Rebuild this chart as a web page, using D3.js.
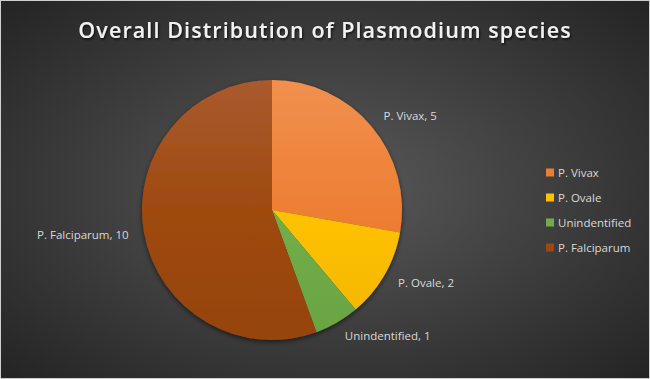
<!DOCTYPE html>
<html>
<head>
<meta charset="utf-8">
<script src="https://cdn.jsdelivr.net/npm/d3@7"></script>
<style>
  body { margin: 0; background: #fff; }
  svg { display: block; }
</style>
</head>
<body>
<svg id="chart" width="650" height="379"></svg>
<script>
const species = ["P. Vivax", "P. Ovale", "Unindentified", "P. Falciparum"];
const counts = [5, 2, 1, 10];
const colours = ["#ED7D31", "#FFC000", "#70AD47", "#9E480E"];
const lightColours = ["#F1904F", "#FFCC40", "#86BC63", "#A95A2E"];

const largeur = 650,
    hauteur = 379;

const svgSpace = d3.select("#chart");
const defs = svgSpace.append("defs");

// background : dark radial gradient
const bg = defs.append("radialGradient")
    .attr("id", "bgGrad")
    .attr("cx", "50%").attr("cy", "50%").attr("r", "70%");
bg.append("stop").attr("offset", "0%").attr("stop-color", "#5a5a5a");
bg.append("stop").attr("offset", "100%").attr("stop-color", "#242424");

svgSpace.append("rect")
    .attr("width", largeur).attr("height", hauteur)
    .attr("fill", "url(#bgGrad)");
svgSpace.append("rect")
    .attr("x", 0.5).attr("y", 0.5)
    .attr("width", largeur - 1).attr("height", hauteur - 1)
    .attr("fill", "none").attr("stroke", "#cfcfcf");

// slice gradients, lighter at the top
colours.forEach((c, i) => {
    const g = defs.append("linearGradient")
        .attr("id", "slice" + i)
        .attr("gradientUnits", "userSpaceOnUse")
        .attr("x1", 0).attr("y1", -130).attr("x2", 0).attr("y2", 130);
    g.append("stop").attr("offset", "0%").attr("stop-color", lightColours[i]);
    g.append("stop").attr("offset", "55%").attr("stop-color", c);
    g.append("stop").attr("offset", "100%").attr("stop-color", d3.color(c).darker(0.15));
});

const shadow = defs.append("filter").attr("id", "shadow")
    .attr("x", "-20%").attr("y", "-20%").attr("width", "140%").attr("height", "140%");
shadow.append("feDropShadow")
    .attr("dx", 0).attr("dy", 2).attr("stdDeviation", 2.5)
    .attr("flood-color", "#000").attr("flood-opacity", 0.55);

const titleShadow = defs.append("filter").attr("id", "tshadow");
titleShadow.append("feDropShadow")
    .attr("dx", 1).attr("dy", 1.5).attr("stdDeviation", 1.2)
    .attr("flood-color", "#000").attr("flood-opacity", 0.7);

// title
svgSpace.append("text")
    .text("Overall Distribution of Plasmodium species")
    .attr("x", largeur / 2)
    .attr("y", 38)
    .attr("fill", "#f2f2f2")
    .attr("filter", "url(#tshadow)")
    .style("font-family", "'Open Sans', sans-serif")
    .style("font-weight", "600")
    .style("font-size", "21.5px")
    .style("letter-spacing", "1.1px")
    .style("text-anchor", "middle");

// pie
const rayonBase = 130,
    cx = 272,
    cy = 210;

const pie = d3.pie().sort(null).value((d) => d.count);
const arcs = pie(species.map((s, i) => ({ name: s, count: counts[i], i: i })));
const arc = d3.arc().innerRadius(0).outerRadius(rayonBase);
const labelArc = d3.arc().innerRadius(rayonBase * 1.12).outerRadius(rayonBase * 1.12);

const pieG = svgSpace.append("g")
    .attr("transform", "translate(" + cx + "," + cy + ")");

pieG.append("g")
    .attr("filter", "url(#shadow)")
    .selectAll("path")
    .data(arcs)
    .enter()
    .append("path")
    .attr("d", arc)
    .attr("fill", (d) => "url(#slice" + d.data.i + ")");

pieG.selectAll("text")
    .data(arcs)
    .enter()
    .append("text")
    .text((d) => d.data.name + ", " + d.data.count)
    .attr("x", (d) => labelArc.centroid(d)[0])
    .attr("y", (d) => labelArc.centroid(d)[1])
    .attr("dy", "0.35em")
    .attr("fill", "#d9d9d9")
    .style("font-family", "'Open Sans', sans-serif")
    .style("font-size", "11.5px")
    .style("text-anchor", (d) => ((d.startAngle + d.endAngle) / 2 < Math.PI ? "start" : "end"));

// legend
const legendScale = d3.scaleBand()
    .domain(species)
    .range([160, 260]);

const legend = svgSpace.append("g")
    .selectAll("g")
    .data(species)
    .enter()
    .append("g")
    .attr("transform", (d) => "translate(546," + (legendScale(d) + legendScale.bandwidth() / 2) + ")");

legend.append("rect")
    .attr("x", 0).attr("y", -4)
    .attr("width", 8).attr("height", 8)
    .attr("fill", (d, i) => colours[i]);

legend.append("text")
    .text((d) => d)
    .attr("x", 12)
    .attr("dy", "0.35em")
    .attr("fill", "#d9d9d9")
    .style("font-family", "'Open Sans', sans-serif")
    .style("font-size", "11.5px");
</script>
</body>
</html>
